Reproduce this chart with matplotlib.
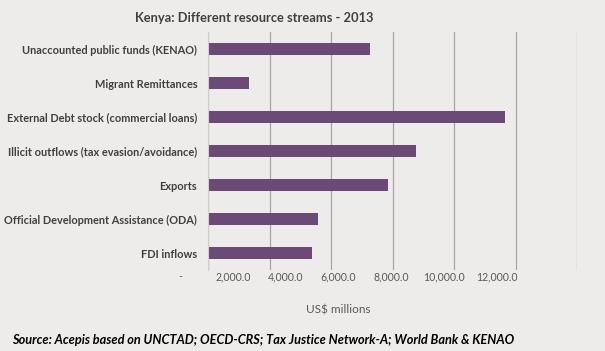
import matplotlib
matplotlib.use("Agg")
import matplotlib.pyplot as plt
from matplotlib.ticker import FuncFormatter

categories = [
    "Unaccounted public funds (KENAO)",
    "Migrant Remittances",
    "External Debt stock (commercial loans)",
    "Illicit outflows (tax evasion/avoidance)",
    "Exports",
    "Official Development Assistance (ODA)",
    "FDI inflows",
]
values = [5260, 1320, 9650, 6750, 5840, 3570, 3370]
xticks = [0, 2000, 4000, 6000, 8000, 10000, 12000]

BG = "#eeecea"
BAR = "#6b4a78"

plt.rcParams["font.family"] = ["Lato", "DejaVu Sans"]

fig = plt.figure(figsize=(6.05, 3.51), dpi=100, facecolor=BG)
bottom = 1 - 270 / 351
ax = fig.add_axes([208.3 / 605, bottom, 369 / 605, 238 / 351])
ax.set_facecolor(BG)

pos = list(range(len(categories)))
ax.barh(pos, values, height=0.36, color=BAR, zorder=3)
ax.set_ylim(len(categories) - 0.5, -0.5)
ax.set_xlim(0, 12000)

ax.set_yticks(pos)
ax.set_yticklabels(categories, fontsize=7.9, fontweight="bold", color="#404040")
ax.set_xticks(xticks)
ax.tick_params(axis="x", labelbottom=False, length=0)
ax.tick_params(axis="y", length=0, pad=8)

ax.grid(axis="x", color="#a6a6a6", linewidth=0.9, zorder=0)
for s in ["top", "right", "bottom"]:
    ax.spines[s].set_visible(False)
ax.spines["left"].set_color("#cfcfcf")
ax.spines["left"].set_zorder(4)

# value labels sit on their own (narrower) scale, like the original chart
lab = fig.add_axes([180 / 605, bottom, 317 / 605, 0.0001])
lab.set_facecolor("none")
lab.set_xlim(0, 12000)
lab.set_yticks([])
lab.set_xticks(xticks)
lab.xaxis.set_major_formatter(FuncFormatter(lambda v, p: "-" if v == 0 else f"{v:,.1f}"))
lab.tick_params(axis="x", labelsize=7.6, labelcolor="#595959", length=0, pad=1)
for s in lab.spines.values():
    s.set_visible(False)
lab.set_xlabel("US$ millions", fontsize=8.5, color="#595959", labelpad=16)

fig.text(254 / 605, 1 - 18 / 351, "Kenya: Different resource streams - 2013", ha="center", va="center",
         fontsize=9.3, fontweight="bold", color="#404040")
fig.text(0.02, 1 - 340 / 351, "Source: Acepis based on UNCTAD; OECD-CRS; Tax Justice Network-A; World Bank & KENAO",
         ha="left", va="center", fontsize=9.2, fontweight="bold", fontstyle="italic", color="black")

fig.savefig("out.png", dpi=100, facecolor=BG)
